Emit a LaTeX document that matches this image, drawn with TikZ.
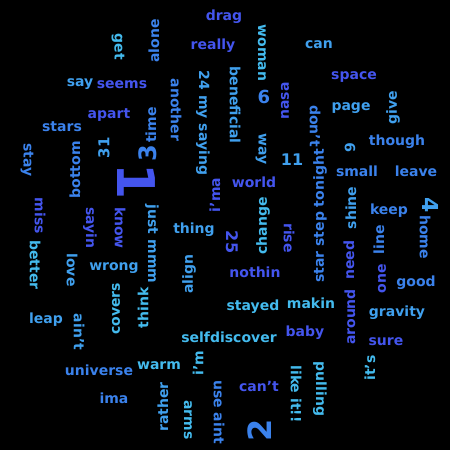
\documentclass[tikz,border=0pt]{standalone}
\usepackage{fontspec}
\setmainfont{DejaVu Sans}
\definecolor{cR}{RGB}{68,85,238}
\definecolor{cM}{RGB}{59,130,236}
\definecolor{cL}{RGB}{64,160,238}
\definecolor{cC}{RGB}{68,187,238}
\newcommand\ap{\char"0027\relax}
\newcommand\fsz[1]{\bfseries\fontsize{#1}{#1}\selectfont}
\tikzset{
  wd/.style={inner sep=0pt, font=\fsz{14}},
  wR/.style={wd,text=cR}, wM/.style={wd,text=cM},
  wL/.style={wd,text=cL}, wC/.style={wd,text=cC},
  rup/.style={rotate=90}, rdn/.style={rotate=-90},
  sz/.style={font=\fsz{#1}}
}
\begin{document}
\begin{tikzpicture}[x=1pt,y=-1pt]
\fill[black] (0,0) rectangle (450,450);
\useasboundingbox (0,0) rectangle (450,450);
\node[wR] (drag) at (224,17) {drag};
\node[wC,rdn] (get) at (118,47) {get};
\node[wM,rup] (alone) at (154,41) {alone};
\node[wR] (really) at (213,46) {really};
\node[wC,rdn] (woman) at (262,53) {woman};
\node[wL] (can) at (319,45) {can};
\node[wL] (say) at (80,84) {say};
\node[wR] (seems) at (122,85) {seems};
\node[wR] (space) at (354,77) {space};
\node[wM,rdn] (another) at (176,110) {another};
\node[wL,rdn] (mysaying) at (203,123) {24 my saying};
\node[wL,rdn] (beneficial) at (235,105) {beneficial};
\node[wM,sz=18] (six) at (264,97) {6};
\node[wR,rup] (nasa) at (285,101) {nasa};
\node[wL] (page) at (351,108) {page};
\node[wL,rup] (give) at (393,108) {give};
\node[wR] (apart) at (109,115) {apart};
\node[wM] (stars) at (62,127) {stars};
\node[wM,rup] (time) at (151,125) {time};
\node[wM,rup,sz=24] (three) at (148,153) {3};
\node[wM,rdn] (dont) at (315,126) {don\ap t};
\node[wM] (though) at (397,142) {though};
\node[wL,rup,sz=15] (thirtyone) at (104,148) {31};
\node[wL,rdn] (way) at (261,149) {way};
\node[wL,sz=16] (eleven) at (292,160) {11};
\node[wL,rup] (nine) at (350,148) {9};
\node[wM] (small) at (357,171) {small};
\node[wM] (leave) at (416,171) {leave};
\node[wM,rdn] (stay) at (27,160) {stay};
\node[wM,rup] (bottom) at (75,170) {bottom};
\node[wR,rdn,sz=52] (one1) at (136,182) {1};
\node[wR,rup] (ima1) at (215,195) {i\ap ma};
\node[wR] (world) at (254,182) {world};
\node[wM,rup] (tonight) at (320,216) {star step tonight};
\node[wL,rup] (shine) at (351,208) {shine};
\node[wM] (keep) at (389,211) {keep};
\node[wL,rdn,sz=22] (four) at (431,205) {4};
\node[wR,rdn] (miss) at (40,216) {miss};
\node[wR,rdn] (sayin) at (90,228) {sayin};
\node[wR,rdn] (know) at (120,228) {know};
\node[wL,rdn] (justmmm) at (152,244) {just mmm};
\node[wL] (thing) at (194,230) {thing};
\node[wC,rup] (change) at (263,226) {change};
\node[wR,rdn,sz=16] (twentyfive) at (232,242) {25};
\node[wR,rdn] (rise) at (289,238) {rise};
\node[wM,rdn] (home) at (425,237) {home};
\node[wM,rup] (line) at (379,240) {line};
\node[wC,rdn] (better) at (35,265) {better};
\node[wL,rdn] (love) at (72,270) {love};
\node[wL] (wrong) at (114,268) {wrong};
\node[wL,rup] (align) at (189,274) {align};
\node[wR] (nothin) at (255,272) {nothin};
\node[wR,rup] (need) at (349,260) {need};
\node[wR,rup] (oneword) at (382,279) {one};
\node[wM] (good) at (416,283) {good};
\node[wL] (leap) at (46,320) {leap};
\node[wL,rdn] (aint1) at (79,332) {ain\ap t};
\node[wC,rup] (covers) at (116,309) {covers};
\node[wC,rup] (think) at (143,308) {think};
\node[wC] (stayed) at (253,307) {stayed};
\node[wC] (makin) at (311,303) {makin};
\node[wR,rup] (around) at (350,317) {around};
\node[wL] (gravity) at (397,313) {gravity};
\node[wC] (selfdiscover) at (229,337) {selfdiscover};
\node[wR] (baby) at (305,333) {baby};
\node[wR] (sure) at (386,342) {sure};
\node[wM] (universe) at (99,370) {universe};
\node[wC] (warm) at (159,366) {warm};
\node[wC,rup] (im) at (198,363) {i\ap m};
\node[wC,rup] (its) at (370,368) {it\ap s};
\node[wM] (ima2) at (114,398) {ima};
\node[wR] (cant) at (259,386) {can\ap t};
\node[wC,rdn] (likeit) at (296,394) {like it!!};
\node[wC,rdn] (pulling) at (320,389) {pulling};
\node[wL,rup] (rather) at (163,407) {rather};
\node[wC,rdn] (arms) at (188,420) {arms};
\node[wM,rdn] (useaint) at (219,412) {use aint};
\node[wM,rup,sz=32] (two) at (260,430) {2};
\end{tikzpicture}
\end{document}
